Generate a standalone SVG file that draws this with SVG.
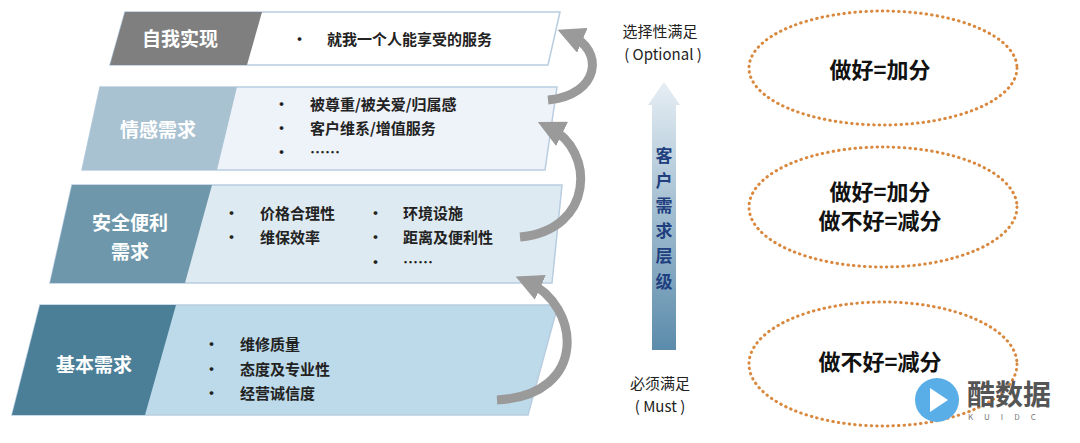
<svg xmlns="http://www.w3.org/2000/svg" width="1080" height="443" viewBox="0 0 1080 443">
<defs>
<linearGradient id="vg" x1="0" y1="0" x2="0" y2="1"><stop offset="0" stop-color="#e6eef4"/><stop offset="1" stop-color="#5b8bab"/></linearGradient>
<marker id="ah" viewBox="0 0 10 10" refX="5" refY="5" markerWidth="3" markerHeight="3" orient="auto"><path d="M0,0 L10,5 L0,10 z" fill="#9a9a9a"/></marker>
</defs>
<style>
text{font-family:"Noto Sans CJK SC","Noto Sans",sans-serif}
.lab{fill:#fff;font-size:19px;font-weight:bold;text-anchor:middle}
.it{fill:#222;font-size:15px;font-weight:bold}
.ct{fill:#222;font-size:15px;text-anchor:middle}
.big{fill:#111;font-size:22px;font-weight:bold;text-anchor:middle}
.arc{fill:none;stroke:#9a9a9a;stroke-width:9;marker-end:url(#ah)}
.ell{fill:none;stroke:#d9893f;stroke-width:3;stroke-dasharray:0.5 5;stroke-linecap:round}
</style>
<rect width="1080" height="443" fill="#fff"/>
<g id="n1">
<polygon points="125,12 560,12 548,65 110,65" fill="#fff" stroke="#b8cde0" stroke-width="1.5"/>
<polygon points="125,12 262,12 247,65 110,65" fill="#7f7f7f"/>
<text class="lab" x="180" y="46">自我实现</text>
<text class="it" x="292" y="45">•</text><text class="it" x="327" y="45">就我一个人能享受的服务</text>
</g>
<g id="n2">
<polygon points="100,87 557,87 545,170 82,170" fill="#eef2f9" stroke="#b8cde0" stroke-width="1.5"/>
<polygon points="100,87 237,87 217,170 82,170" fill="#a9c2d2"/>
<text class="lab" x="158" y="137">情感需求</text>
<text class="it" x="274" y="110">•</text><text class="it" x="310" y="110">被尊重/被关爱/归属感</text>
<text class="it" x="274" y="134">•</text><text class="it" x="310" y="134">客户维系/增值服务</text>
<text class="it" x="274" y="158">•</text><text class="it" x="310" y="158">……</text>
</g>
<g id="n3">
<polygon points="72,185 562,185 552,283 50,283" fill="#deeaf1" stroke="#b8cde0" stroke-width="1.5"/>
<polygon points="72,185 212,185 185,283 50,283" fill="#6e97ab"/>
<text class="lab" x="130" y="230">安全便利</text>
<text class="lab" x="130" y="259">需求</text>
<text class="it" x="224" y="219">•</text><text class="it" x="260" y="219">价格合理性</text>
<text class="it" x="224" y="243">•</text><text class="it" x="260" y="243">维保效率</text>
<text class="it" x="368" y="219">•</text><text class="it" x="403" y="219">环境设施</text>
<text class="it" x="368" y="243">•</text><text class="it" x="403" y="243">距离及便利性</text>
<text class="it" x="368" y="268">•</text><text class="it" x="403" y="268">……</text>
</g>
<g id="n4">
<polygon points="40,305 558,305 528,415 12,415" fill="#bddaea" stroke="#b8cde0" stroke-width="1.5"/>
<polygon points="40,305 176,305 145,415 12,415" fill="#4b7f98"/>
<text class="lab" x="94" y="372">基本需求</text>
<text class="it" x="204" y="350">•</text><text class="it" x="240" y="350">维修质量</text>
<text class="it" x="204" y="375">•</text><text class="it" x="240" y="375">态度及专业性</text>
<text class="it" x="204" y="399">•</text><text class="it" x="240" y="399">经营诚信度</text>
</g>
<g id="connectors">
<path class="arc" d="M548,100 C600,95 605,50 570,35"/>
<path class="arc" d="M520,237 C595,230 595,150 550,128"/>
<path class="arc" d="M497,400 C590,395 580,305 528,282"/>
</g>
<g id="axis">
<text class="ct" x="660" y="37">选择性满足</text>
<text class="ct" x="663" y="60">( Optional )</text>
<polygon points="664,82 680,105 676,105 676,350 652,350 652,105 648,105" fill="url(#vg)"/>
<g fill="#1f3f7f" font-size="17" font-weight="bold" text-anchor="middle">
<text x="664" y="162">客</text><text x="664" y="187">户</text><text x="664" y="212">需</text><text x="664" y="237">求</text><text x="664" y="262">层</text><text x="664" y="288">级</text>
</g>
<text class="ct" x="660" y="389">必须满足</text>
<text class="ct" x="660" y="412">( Must )</text>
</g>
<g id="e1"><ellipse class="ell" cx="883" cy="68" rx="134" ry="57"/><text class="big" x="880" y="78">做好=加分</text></g>
<g id="e2"><ellipse class="ell" cx="883" cy="207" rx="134" ry="60"/><text class="big" x="880" y="200">做好=加分</text><text class="big" x="880" y="229">做不好=减分</text></g>
<g id="e3"><ellipse class="ell" cx="883" cy="364" rx="134" ry="62"/><text class="big" x="880" y="370">做不好=减分</text></g>
<g id="wm">
<circle cx="937" cy="400" r="22" fill="#5aaee8"/>
<path d="M930,388 L948,400 L930,412 z" fill="#fff"/>
<text x="967" y="405" font-size="28" font-weight="bold" fill="#555">酷数据</text>
<text x="968" y="420" font-size="8" fill="#777" letter-spacing="11">KUIDC</text>
</g>
</svg>
